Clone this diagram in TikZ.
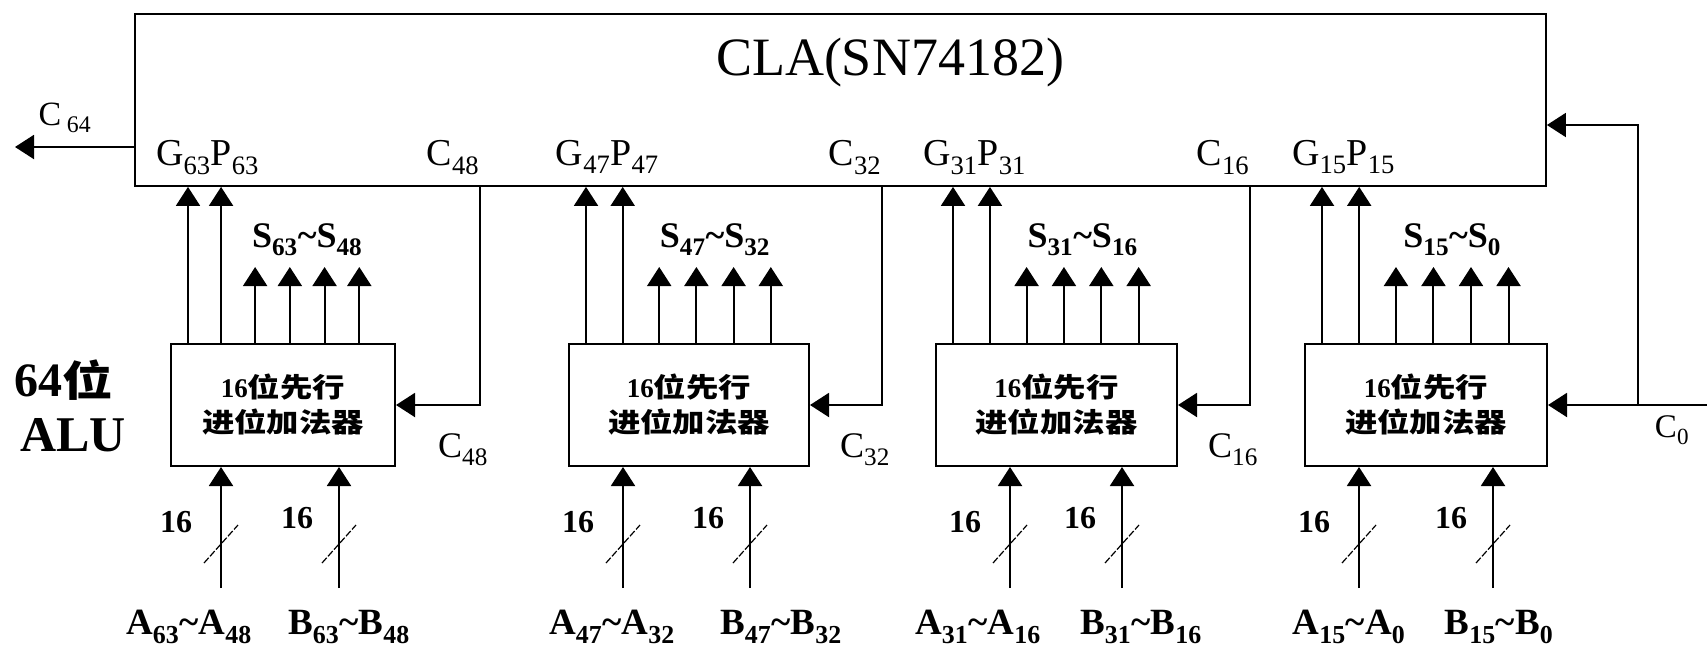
\documentclass[tikz,border=0pt]{standalone}
\usepackage{fontspec}
\setmainfont{Liberation Serif}
\newfontfamily\cjk[FakeStretch=1.2]{Noto Sans CJK SC}
\usetikzlibrary{arrows.meta}
\newcommand\idx[1]{\textsubscript{#1}}

\begin{document}
\begin{tikzpicture}[
  x=1pt, y=-1pt,
  cla/.style={draw, line width=1.8pt, minimum width=1411pt, minimum height=172pt, inner sep=0pt},
  adder/.style={draw, line width=2pt, minimum height=122pt, inner sep=0pt, align=center,
    font=\cjk\bfseries\fontsize{27}{35}\selectfont},
  arrow/.style={-{Triangle[length=19pt,width=24pt]}, line width=2pt},
  slash/.style={line width=1.2pt, dash pattern=on 7pt off 2pt},
  port/.style={font=\fontsize{38}{38}\selectfont},
  bus/.style={font=\bfseries\fontsize{36}{36}\selectfont},
  width/.style={font=\bfseries\fontsize{32}{32}\selectfont}
]
\useasboundingbox (0,0) rectangle (1707,646);

% carry lookahead unit
\node[cla] (cla) at (840.5,100) {};
\node[font=\fontsize{54}{54}\selectfont] (title) at (890,63) {CLA(SN74182)};
\node[font=\bfseries\fontsize{48}{48}\selectfont] (alu64) at (64,380) {64{\cjk\bfseries\fontsize{42}{42}\selectfont 位}};
\node[font=\bfseries\fontsize{50}{50}\selectfont] (alu) at (73,435) {ALU};

% the four 16-bit adders
\foreach \n/\l/\w/\hib/\lob/\ax/\bx/\al/\bl in {
    1/170/224/63/48/221/339/189/349,
    2/568/240/47/32/623/750/612/781,
    3/935/241/31/16/1010/1122/978/1141,
    4/1304/242/15/0/1359/1493/1349/1499}{
  \node[adder, minimum width=\w pt, anchor=north west] (add\n) at (\l,343) {{\rmfamily\bfseries 16}位先行\\进位加法器};
  \coordinate (g\n) at (\l+18,300);
  \coordinate (p\n) at (\l+0.228*\w,300);
  \draw[arrow] (add\n.north -| g\n) -- (cla.south -| g\n);
  \draw[arrow] (add\n.north -| p\n) -- (cla.south -| p\n);
  \node[port, anchor=base] (gp\n) at (\l+9+0.114*\w+3,165) {G\idx{\hib}P\idx{\hib}};
  \foreach \k in {0,...,3}{
    \coordinate (s\n\k) at (\l+0.38*\w+0.155*\w*\k,267);
    \draw[arrow] (add\n.north -| s\n\k) -- (s\n\k);
  }
  \node[bus] (sum\n) at (\l+0.6125*\w,240) {S\idx{\hib}\textasciitilde S\idx{\lob}};
  % operand buses
  \coordinate (a\n) at (\ax,588);
  \coordinate (b\n) at (\bx,588);
  \draw[arrow] (a\n) -- (add\n.south -| a\n);
  \draw[arrow] (b\n) -- (add\n.south -| b\n);
  \draw[slash] (\ax-17,563) -- (\ax+17,525);
  \draw[slash] (\bx-17,563) -- (\bx+17,525);
  \node[width] (wa\n) at (\ax-45,522) {16};
  \node[width] (wb\n) at (\bx-42,518) {16};
  \node[bus, font=\bfseries\fontsize{37}{37}\selectfont] (ina\n) at (\al,627) {A\idx{\hib}\textasciitilde A\idx{\lob}};
  \node[bus, font=\bfseries\fontsize{37}{37}\selectfont] (inb\n) at (\bl,627) {B\idx{\hib}\textasciitilde B\idx{\lob}};
}

% carries from the CLA
\foreach \n/\cx/\c in {1/480/48, 2/882/32, 3/1250/16}{
  \coordinate (cy\n) at (\cx,300);
  \draw[arrow] (cla.south -| cy\n) |- (add\n.east);
  \node[port, anchor=base] (cup\n) at (\cx-27,165) {C\idx{\c}};
  \node[port, font=\fontsize{36}{36}\selectfont] (cdn\n) at (\cx-17,450) {C\idx{\c}};
}

% carry out and carry in
\coordinate (c64) at (15,147);
\draw[arrow] (cla.west |- c64) -- (c64);
\node[font=\fontsize{34}{34}\selectfont, anchor=base west] (c64lab) at (35,125) {C\,\idx{64}};
\coordinate (c0) at (1707,405);
\coordinate (c0up) at (1638,125);
\draw[arrow] (c0) -- (add4.east);
\draw[arrow] (c0 -| c0up) |- (cla.east |- c0up);
\node[font=\fontsize{33}{33}\selectfont] (c0lab) at (1672,430) {C\idx{0}};
\end{tikzpicture}
\end{document}
